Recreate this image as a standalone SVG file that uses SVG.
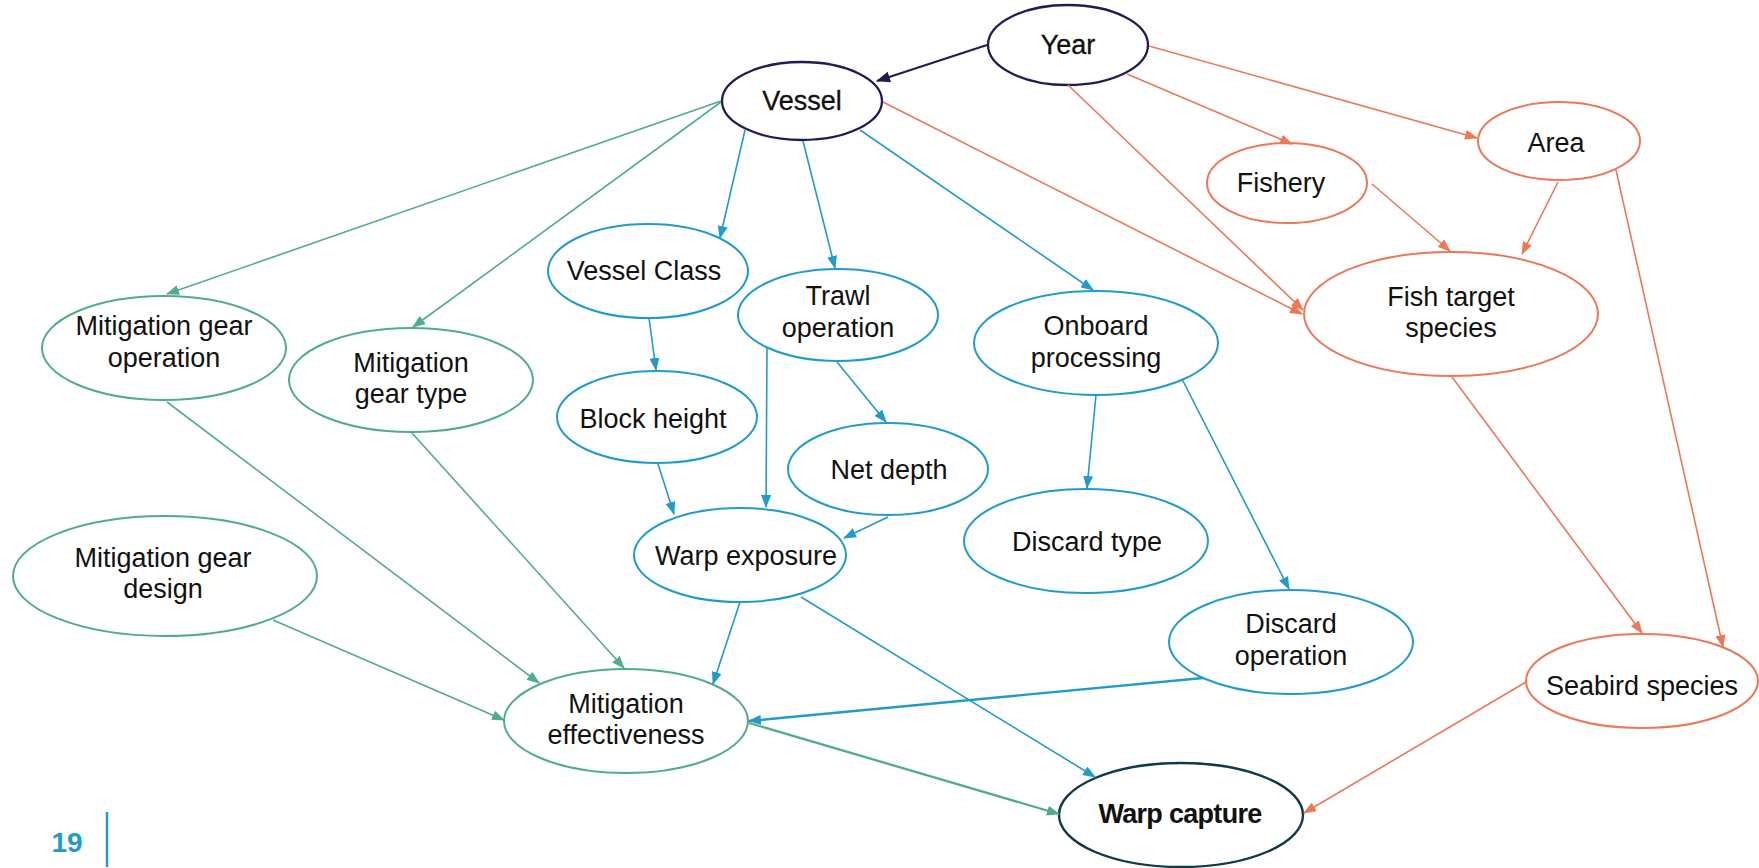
<svg xmlns="http://www.w3.org/2000/svg" width="1759" height="868" viewBox="0 0 1759 868">
  <style>
    .n ellipse { fill: #ffffff; stroke-width: 2; }
    .n text { font-family: "Liberation Sans", Arial, sans-serif; font-size: 27px; text-anchor: middle; fill: #111111; }
    .k ellipse { stroke: #221c55; stroke-width: 2.3; }
    .g ellipse { stroke: #4fae89; }
    .b ellipse { stroke: #1f9bcc; }
    .o ellipse { stroke: #ec7856; }
    .med { stroke: #111111; stroke-width: 0.3; }
    .e { fill: none; stroke-width: 1.6; }
    .ek { stroke: #221c55; stroke-width: 2.2; marker-end: url(#ah-k); }
    .eg { stroke: #4fae89; marker-end: url(#ah-g); }
    .eb { stroke: #1f9bcc; marker-end: url(#ah-b); }
    .eo { stroke: #ec7856; marker-end: url(#ah-o); }
    .thick { stroke-width: 2.3; }
  </style>
  <defs>
    <marker id="ah-k" markerUnits="userSpaceOnUse" markerWidth="14" markerHeight="11" refX="13" refY="5.5" orient="auto"><path d="M0,0 L14,5.5 L0,11 Z" fill="#221c55"/></marker>
    <marker id="ah-g" markerUnits="userSpaceOnUse" markerWidth="13" markerHeight="10" refX="12" refY="5" orient="auto"><path d="M0,0 L13,5 L0,10 Z" fill="#4fae89"/></marker>
    <marker id="ah-b" markerUnits="userSpaceOnUse" markerWidth="13" markerHeight="10" refX="12" refY="5" orient="auto"><path d="M0,0 L13,5 L0,10 Z" fill="#1f9bcc"/></marker>
    <marker id="ah-o" markerUnits="userSpaceOnUse" markerWidth="13" markerHeight="10" refX="12" refY="5" orient="auto"><path d="M0,0 L13,5 L0,10 Z" fill="#ec7856"/></marker>
  </defs>
  <rect width="1759" height="868" fill="#ffffff"/>

  <!-- nodes -->
  <g id="year" class="n k">
    <ellipse cx="1068" cy="45" rx="80" ry="40"/>
    <text x="1068" y="54" class="med">Year</text>
  </g>
  <g id="vessel" class="n k">
    <ellipse cx="802" cy="101" rx="80" ry="39"/>
    <text x="802" y="110" class="med">Vessel</text>
  </g>
  <g id="mit-gear-operation" class="n g">
    <ellipse cx="164" cy="348" rx="122" ry="52"/>
    <text x="164" y="335">Mitigation gear</text>
    <text x="164" y="367">operation</text>
  </g>
  <g id="mit-gear-type" class="n g">
    <ellipse cx="411" cy="380" rx="122" ry="52"/>
    <text x="411" y="372">Mitigation</text>
    <text x="411" y="403">gear type</text>
  </g>
  <g id="mit-gear-design" class="n g">
    <ellipse cx="165" cy="576" rx="152" ry="60"/>
    <text x="163" y="567">Mitigation gear</text>
    <text x="163" y="598">design</text>
  </g>
  <g id="mit-effectiveness" class="n g">
    <ellipse cx="626" cy="721" rx="122" ry="52"/>
    <text x="626" y="713">Mitigation</text>
    <text x="626" y="744">effectiveness</text>
  </g>
  <g id="vessel-class" class="n b">
    <ellipse cx="648" cy="271" rx="100" ry="47"/>
    <text x="644" y="280">Vessel Class</text>
  </g>
  <g id="trawl-operation" class="n b">
    <ellipse cx="838" cy="315" rx="100" ry="46"/>
    <text x="838" y="305">Trawl</text>
    <text x="838" y="337">operation</text>
  </g>
  <g id="block-height" class="n b">
    <ellipse cx="657" cy="417" rx="100" ry="46"/>
    <text x="653" y="428">Block height</text>
  </g>
  <g id="net-depth" class="n b">
    <ellipse cx="888" cy="469" rx="100" ry="46"/>
    <text x="889" y="479">Net depth</text>
  </g>
  <g id="warp-exposure" class="n b">
    <ellipse cx="740" cy="555" rx="106" ry="47"/>
    <text x="746" y="565">Warp exposure</text>
  </g>
  <g id="onboard-processing" class="n b">
    <ellipse cx="1096" cy="343" rx="122" ry="52"/>
    <text x="1096" y="335">Onboard</text>
    <text x="1096" y="367">processing</text>
  </g>
  <g id="discard-type" class="n b">
    <ellipse cx="1086" cy="541" rx="122" ry="52"/>
    <text x="1087" y="551">Discard type</text>
  </g>
  <g id="discard-operation" class="n b">
    <ellipse cx="1291" cy="642" rx="122" ry="52"/>
    <text x="1291" y="633">Discard</text>
    <text x="1291" y="665">operation</text>
  </g>
  <g id="fishery" class="n o">
    <ellipse cx="1287" cy="183" rx="80" ry="40"/>
    <text x="1281" y="192">Fishery</text>
  </g>
  <g id="area" class="n o">
    <ellipse cx="1559" cy="141" rx="81" ry="39"/>
    <text x="1556" y="152">Area</text>
  </g>
  <g id="fish-target-species" class="n o">
    <ellipse cx="1451" cy="314" rx="147" ry="62"/>
    <text x="1451" y="306">Fish target</text>
    <text x="1451" y="337">species</text>
  </g>
  <g id="seabird-species" class="n o">
    <ellipse cx="1642" cy="681" rx="116" ry="47"/>
    <text x="1642" y="695">Seabird species</text>
  </g>
  <g id="warp-capture" class="n">
    <ellipse cx="1181" cy="815" rx="122" ry="52" style="stroke:#0e3a4a;stroke-width:2.4"/>
    <text x="1180" y="823" style="font-weight:bold;letter-spacing:-0.7px">Warp capture</text>
  </g>

  <!-- connectors -->
  <g id="connectors" class="e">
    <path class="e ek" d="M987,45 L877,81"/>

    <path class="e eo" d="M1149,46 L1477,138"/>
    <path class="e eo" d="M1127,74 L1292,144"/>
    <path class="e eo" d="M1068,85 L1303,310"/>
    <path class="e eo" d="M883,102 L1302,314"/>
    <path class="e eo" d="M1372,184 L1450,251"/>
    <path class="e eo" d="M1558,182 L1522,254"/>
    <path class="e eo" d="M1616,170 L1723,647"/>
    <path class="e eo" d="M1452,377 L1642,633"/>
    <path class="e eo" d="M1526,682 L1304,813"/>

    <path class="e eg" d="M721,101 L167,294"/>
    <path class="e eg" d="M721,102 L413,327"/>
    <path class="e eg" d="M167,402 L539,683"/>
    <path class="e eg" d="M412,433 L624,668"/>
    <path class="e eg" d="M273,620 L504,720"/>
    <path class="e eg thick" d="M749,723 L1059,814"/>

    <path class="e eb" d="M745,130 L720,238"/>
    <path class="e eb" d="M803,141 L835,268"/>
    <path class="e eb" d="M860,130 L1093,290"/>
    <path class="e eb" d="M649,318 L656,370"/>
    <path class="e eb" d="M658,464 L674,514"/>
    <path class="e eb" d="M767,348 L766,507"/>
    <path class="e eb" d="M837,362 L886,422"/>
    <path class="e eb" d="M888,517 L844,538"/>
    <path class="e eb" d="M740,602 L713,684"/>
    <path class="e eb" d="M801,597 L1095,777"/>
    <path class="e eb" d="M1096,395 L1087,488"/>
    <path class="e eb" d="M1182,379 L1289,589"/>
    <path class="e eb thick" d="M1203,678 L749,721"/>
  </g>

  <!-- page number -->
  <g id="page-number">
    <text x="67" y="852" style="font-family:'Liberation Sans',Arial,sans-serif;font-size:28px;font-weight:bold;text-anchor:middle;fill:#1f9bcc">19</text>
    <line x1="107" y1="812" x2="107" y2="867" stroke="#1f9bcc" stroke-width="2.5"/>
  </g>
</svg>
